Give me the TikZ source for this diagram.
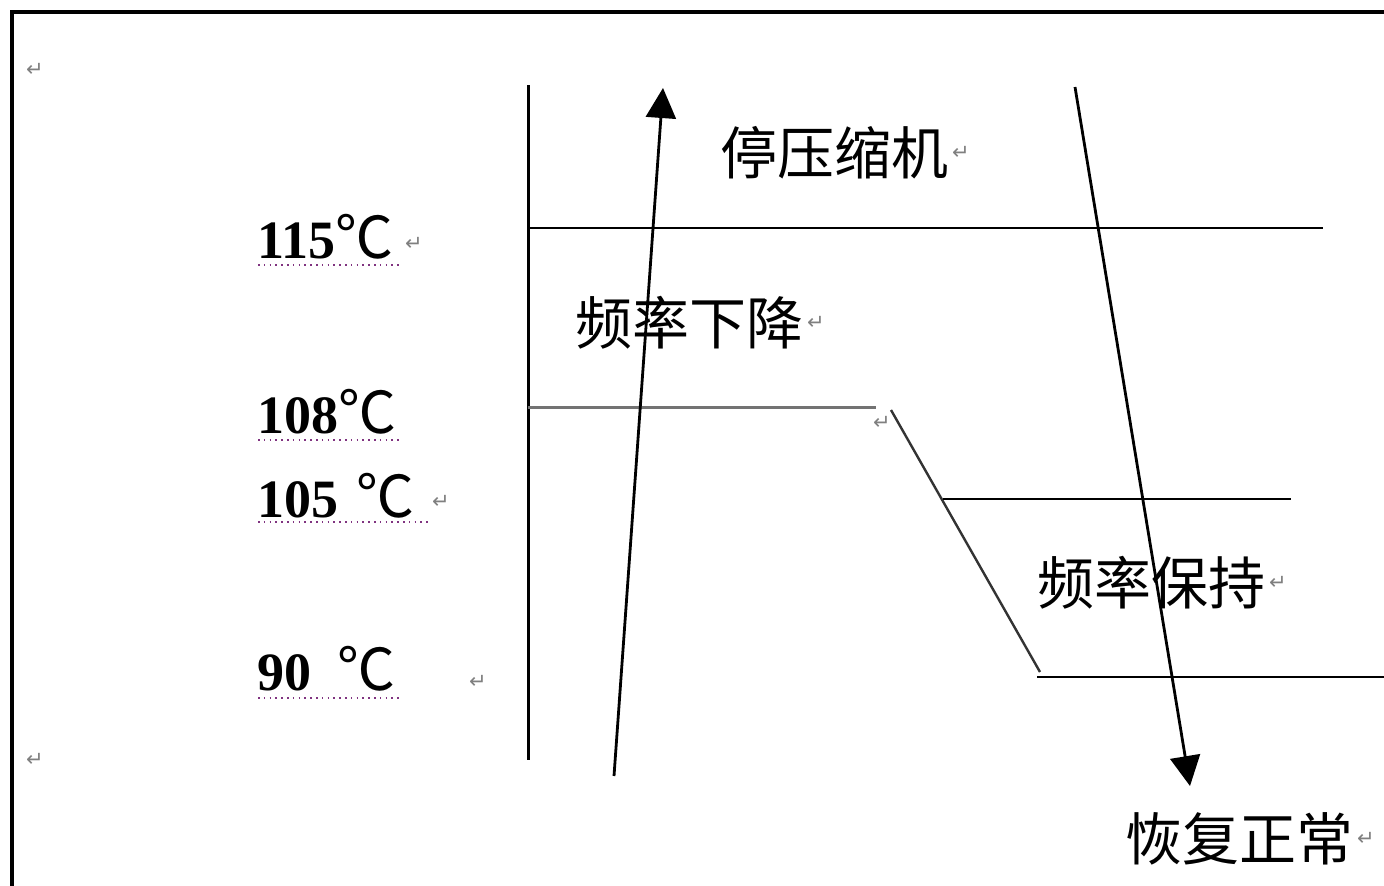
\documentclass[tikz,border=0pt]{standalone}
\usepackage{fontspec}
\setmainfont{Liberation Serif}
\newfontfamily\cjk{Noto Sans CJK SC}
\newfontfamily\djv{DejaVu Sans}
\usetikzlibrary{arrows.meta}
\newcommand{\degc}{{\cjk\mdseries\fontsize{58}{60}\selectfont ℃}}
\begin{document}
\begin{tikzpicture}[x=1pt,y=-1pt,
  lbl/.style={anchor=west,inner sep=0pt,font=\cjk\fontsize{57}{60}\selectfont},
  temp/.style={anchor=base west,inner sep=0pt,font=\bfseries\fontsize{54}{60}\selectfont},
  ret/.style={inner sep=0pt,text=gray,font=\djv\fontsize{21}{23}\selectfont},
  uline/.style={draw=violet!60!gray,line width=1.6pt,dash pattern=on 1.6pt off 4.2pt},
  thick line/.style={line width=3pt},
  thin line/.style={line width=2.6pt},
  arr/.style={line width=2.8pt,-{Triangle[length=30pt,width=30pt]}}]
\useasboundingbox (0,0) rectangle (1384,886);
% frame
\draw[line width=3.4pt] (12,886) -- (12,12) -- (1384,12);
% axis
\coordinate (axt) at (528,85);
\coordinate (axb) at (528,760);
\draw[thick line] (axt) -- (axb);
% levels
\coordinate (l115a) at (528,228); \coordinate (l115b) at (1323,228);
\draw[thin line] (l115a) -- (l115b);
\coordinate (l108a) at (528,407); \coordinate (l108b) at (876,407);
\draw[line width=3pt,draw=black!55] (l108a) -- (l108b);
\coordinate (sa) at (891,410); \coordinate (sb) at (1040,672);
\draw[line width=2.4pt,draw=black!80] (sa) -- (sb);
\coordinate (l105a) at (943,499); \coordinate (l105b) at (1291,499);
\draw[thin line] (l105a) -- (l105b);
\coordinate (l90a) at (1037,677); \coordinate (l90b) at (1384,677);
\draw[thin line] (l90a) -- (l90b);
% arrows
\coordinate (ua) at (614,776); \coordinate (ub) at (663,88);
\draw[arr] (ua) -- (ub);
\coordinate (da) at (1075,87); \coordinate (db) at (1190,786);
\draw[arr] (da) -- (db);
% labels
\node[lbl] (t1) at (720,153) {停压缩机};
\node[ret,anchor=west] (r1) at (t1.east) {\,↵};
\node[lbl] (t2) at (575,323) {频率下降};
\node[ret,anchor=west] (r2) at (t2.east) {\,↵};
\node[lbl] (t3) at (1037,583) {频率保持};
\node[ret,anchor=west] (r3) at (t3.east) {\,↵};
\node[lbl] (t4) at (1125,839) {恢复正常};
\node[ret,anchor=west] (r4) at (t4.east) {\,↵};
% temperatures
\node[temp] (c115) at (257,258) {115\degc};
\node[ret] (r115) at (414,244) {↵};
\node[temp] (c108) at (257,433) {108\degc};
\node[temp] (c105) at (257,517) {105\,\,\degc};
\node[ret] (r105) at (441,502) {↵};
\node[temp] (c90) at (257,690) {90\hspace{26pt}\degc};
\node[ret] (r90) at (478,682) {↵};
\draw[uline] (258,265) -- (402,265);
\draw[uline] (258,440) -- (402,440);
\draw[uline] (258,522) -- (430,522);
\draw[uline] (258,698) -- (402,698);
% paragraph marks
\node[ret] (p1) at (35,70) {↵};
\node[ret] (p2) at (35,760) {↵};
\node[ret] (p3) at (882,423) {↵};
\end{tikzpicture}
\end{document}
